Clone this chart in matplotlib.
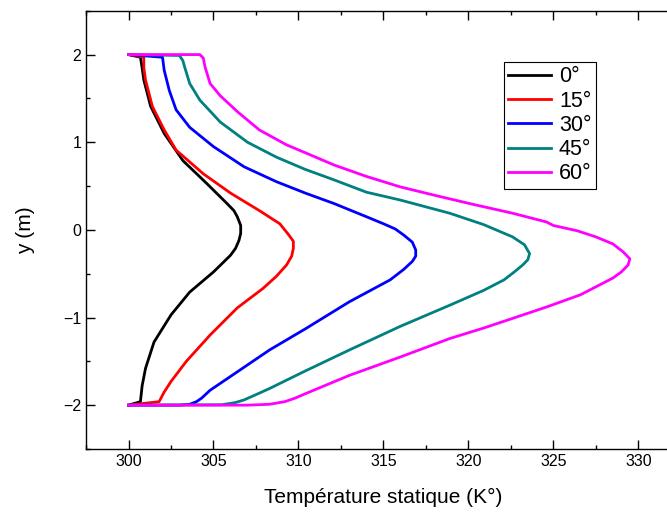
import matplotlib
matplotlib.use("Agg")
import matplotlib.pyplot as plt
from matplotlib.ticker import MultipleLocator

plt.rcParams["font.family"] = ["Liberation Sans", "DejaVu Sans"]

# Temperature profiles (K) versus y (m)
t_0 = [300.0, 300.7, 300.8, 300.9, 301.3, 302.1, 303.2, 304.6, 305.8, 306.2, 306.4,
       306.6, 306.6, 306.5, 306.3, 306.0, 305.0, 303.6, 302.5, 301.5, 301.0, 300.8,
       300.7, 300.0]
y_0 = [2.0, 1.97, 1.85, 1.71, 1.41, 1.10, 0.79, 0.53, 0.30, 0.22, 0.15,
       0.05, -0.04, -0.12, -0.21, -0.29, -0.48, -0.71, -0.97, -1.28, -1.58, -1.78,
       -1.96, -2.0]

t_15 = [300.0, 300.9, 300.9, 301.0, 301.4, 302.1, 302.8, 304.4, 306.0, 307.7, 308.9,
        309.4, 309.7, 309.7, 309.6, 309.3, 308.7, 307.9, 306.4, 304.8, 303.4, 302.5,
        302.1, 301.8, 300.0]
y_15 = [2.0, 1.97, 1.85, 1.71, 1.41, 1.14, 0.91, 0.64, 0.42, 0.22, 0.07,
        -0.05, -0.13, -0.21, -0.30, -0.40, -0.53, -0.67, -0.89, -1.20, -1.50, -1.73,
        -1.85, -1.96, -2.0]

t_30 = [300.0, 302.0, 302.1, 302.4, 302.8, 303.6, 305.0, 306.8, 308.7, 310.4, 312.1,
        314.0, 315.0, 315.7, 316.2, 316.7, 316.9, 316.9, 316.7, 316.2, 315.4, 313.0,
        310.4, 308.3, 306.4, 304.8, 304.3, 304.0, 303.6, 303.0, 300.0]
y_30 = [2.0, 1.97, 1.82, 1.59, 1.37, 1.17, 0.95, 0.72, 0.55, 0.42, 0.30,
        0.15, 0.07, 0.01, -0.06, -0.14, -0.23, -0.30, -0.36, -0.45, -0.57, -0.82,
        -1.13, -1.37, -1.62, -1.83, -1.92, -1.96, -1.99, -2.0, -2.0]

t_45 = [300.0, 303.0, 303.2, 303.3, 303.6, 304.2, 305.4, 307.0, 308.7, 310.4, 312.1,
        314.0, 316.0, 318.9, 320.9, 322.6, 323.3, 323.6, 323.5, 323.2, 322.7, 322.1,
        320.9, 318.9, 316.0, 313.0, 310.4, 308.3, 307.5, 306.8, 306.3, 305.5, 300.0]
y_45 = [2.0, 1.99, 1.93, 1.86, 1.67, 1.48, 1.23, 1.00, 0.83, 0.69, 0.57,
        0.43, 0.34, 0.19, 0.06, -0.08, -0.17, -0.27, -0.34, -0.40, -0.48, -0.57,
        -0.69, -0.86, -1.10, -1.37, -1.61, -1.81, -1.88, -1.94, -1.97, -1.995, -2.0]

t_60 = [300.0, 304.2, 304.4, 304.5, 304.8, 305.4, 306.4, 307.7, 309.3, 310.4, 312.1,
        314.0, 316.0, 317.9, 320.3, 322.6, 324.6, 325.0, 326.4, 327.5, 328.5, 329.1,
        329.5, 329.4, 329.0, 328.5, 326.6, 324.6, 322.6, 320.9, 318.9, 316.0, 313.0,
        310.4, 309.8, 309.2, 308.3, 307.0, 300.0]
y_60 = [2.0, 2.0, 1.96, 1.86, 1.67, 1.53, 1.35, 1.14, 0.97, 0.88, 0.74,
        0.61, 0.49, 0.40, 0.29, 0.19, 0.09, 0.05, -0.01, -0.08, -0.16, -0.25,
        -0.33, -0.40, -0.48, -0.55, -0.74, -0.88, -1.01, -1.12, -1.24, -1.45, -1.66,
        -1.87, -1.92, -1.96, -1.99, -2.0, -2.0]

labels = ["0°", "15°", "30°", "45°", "60°"]
colors = ["#000000", "#FF0000", "#0000FF", "#008080", "#FF00FF"]

fig = plt.figure(figsize=(6.67, 5.13), dpi=100)
ax = fig.add_axes([0.129, 0.1248, 0.8917, 0.8542])

series = [(t_0, y_0), (t_15, y_15), (t_30, y_30), (t_45, y_45), (t_60, y_60)]
for (t, y), lab, col in zip(series, labels, colors):
    ax.plot(t, y, color=col, linewidth=2.0, label=lab, solid_joinstyle="round")

ax.set_xlim(297.5, 332.5)
ax.set_ylim(-2.5, 2.5)
ax.xaxis.set_major_locator(MultipleLocator(5))
ax.xaxis.set_minor_locator(MultipleLocator(2.5))
ax.yaxis.set_major_locator(MultipleLocator(1))
ax.yaxis.set_minor_locator(MultipleLocator(0.5))
ax.tick_params(which="both", direction="in", top=True, right=True, width=1.0,
               labelsize=11.5)
ax.tick_params(which="major", length=6.5)
ax.tick_params(which="minor", length=3)
for s in ax.spines.values():
    s.set_linewidth(1.0)

ax.set_xlabel("Température statique (K°)", fontsize=15, labelpad=14)
ax.set_ylabel("y (m)", fontsize=15, labelpad=20)

leg = ax.legend(loc="upper left", bbox_to_anchor=(0.7556, 0.879),
                bbox_transform=fig.transFigure, borderaxespad=0,
                fontsize=15.5, fancybox=False, framealpha=1,
                edgecolor="black", handlelength=2.0, handletextpad=0.35,
                labelspacing=0.15, borderpad=0.2)
leg.get_frame().set_linewidth(0.8)

fig.savefig("out.png", dpi=100)
